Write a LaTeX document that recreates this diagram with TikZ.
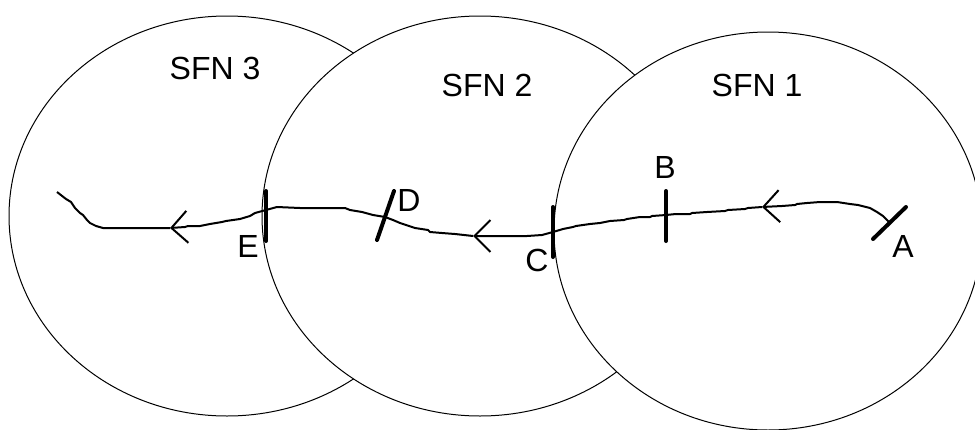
\documentclass[tikz,border=0pt]{standalone}
\usepackage{fontspec}
\setmainfont{Liberation Sans}
\usetikzlibrary{arrows.meta}

\tikzset{
cell/.style={line width=0.5pt, fill=white},
track/.style={line width=1pt, line join=round},
dir/.style={track, -{Straight Barb[length=8pt,width=16pt,line width=1pt]}},
tickbar/.style={line width=2pt, line cap=round},
lbl/.style={font=\fontsize{16}{19}\selectfont, inner sep=0pt}
}

\begin{document}
\begin{tikzpicture}[x=0.5pt, y=-0.5pt]
\useasboundingbox (0,0) rectangle (975,429);
\clip (0,0) rectangle (975,429);

% cells, each one laid over the one before
\draw[cell] (227,216) ellipse [x radius=218, y radius=200];
\draw[cell] (480,216) ellipse [x radius=218, y radius=200];
\draw[cell] (768,231) ellipse [x radius=214, y radius=199];

\node[lbl] (sfn3) at (215,68) {SFN 3};
\node[lbl] (sfn2) at (487,85) {SFN 2};
\node[lbl] (sfn1) at (757,85) {SFN 1};

% handover points
\coordinate (A) at (889,222);
\coordinate (B) at (666,215);
\coordinate (C) at (553,232);
\coordinate (D) at (385,217);
\coordinate (E) at (266,210);
\coordinate (arrA) at (762,207);
\coordinate (arrC) at (473,236);
\coordinate (arrE) at (170,228);
\coordinate (stop) at (57,192);

% route
\draw[dir] (A) -- (883,216) -- (877,212) -- (870,208) -- (858,205) -- (850,204)
  -- (837,202) -- (820,202) -- (807,203) -- (797,204) -- (795,205) -- (782,206) -- (arrA);
\draw[track] (arrA) -- (748,208) -- (745,209) -- (728,210) -- (725,211) -- (707,212)
  -- (692,213) -- (690,214) -- (676,214) -- (B);
\draw[track] (B) -- (652,216) -- (650,217) -- (640,217) -- (627,219) -- (624,220)
  -- (610,221) -- (600,223) -- (590,224) -- (576,226) -- (573,227) -- (563,229) -- (C);
\draw[dir] (C) -- (542,235) -- (527,236) -- (510,236) -- (490,236) -- (arrC);
\draw[track] (arrC) -- (455,234) -- (442,233) -- (430,232) -- (428,230) -- (415,228)
  -- (400,223) -- (393,220) -- (D);
\draw[track] (D) -- (373,215) -- (362,212) -- (350,210) -- (345,208) -- (320,208)
  -- (300,208) -- (277,207) -- (E);
\draw[dir] (E) -- (255,213) -- (250,216) -- (240,219) -- (226,221) -- (222,222)
  -- (210,224) -- (200,226) -- (188,226) -- (185,227) -- (arrE);
\draw[track] (arrE) -- (140,228) -- (103,228) -- (96,226) -- (90,223) -- (87,220)
  -- (83,215) -- (80,213) -- (75,208) -- (71,202) -- (66,199) -- (stop);

% handover bars
\draw[tickbar] (906,207) -- (873,239);
\draw[tickbar] (666,191) -- (666,241);
\draw[tickbar] (553,207) -- (553,257);
\draw[tickbar] (394,191) -- (377,240);
\draw[tickbar] (266,191) -- (266,241);

\node[lbl] (labA) at (903,246) {A};
\node[lbl] (labB) at (665,167) {B};
\node[lbl] (labC) at (537,260) {C};
\node[lbl] (labD) at (409,200) {D};
\node[lbl] (labE) at (248,246) {E};
\end{tikzpicture}
\end{document}
